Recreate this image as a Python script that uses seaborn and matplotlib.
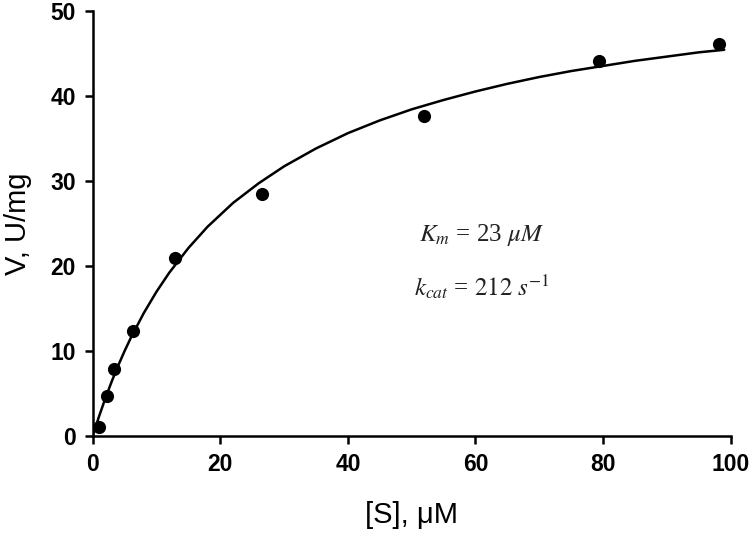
import matplotlib
matplotlib.use('Agg')
import matplotlib.pyplot as plt
import seaborn as sns
import pandas as pd

# measured points
substrate = [1.0, 2.2, 3.4, 6.3, 12.9, 26.6, 51.9, 79.4, 98.1]
velocity = [1.0, 4.7, 7.9, 12.3, 20.9, 28.4, 37.6, 44.1, 46.1]

# fitted curve
curve_s = [0, 1, 2, 3, 4, 5, 6, 8, 10, 12, 15, 18, 22, 26, 30, 35, 40, 45,
           50, 55, 60, 65, 70, 75, 80, 85, 90, 95, 99]
curve_v = [0, 2.33, 4.48, 6.46, 8.30, 10.0, 11.59, 14.45, 16.97, 19.2, 22.1,
           24.6, 27.4, 29.7, 31.7, 33.8, 35.6, 37.1, 38.4, 39.5, 40.5, 41.4,
           42.2, 42.9, 43.5, 44.1, 44.6, 45.1, 45.4]

x_ticks = [0, 20, 40, 60, 80, 100]
y_ticks = [0, 10, 20, 30, 40, 50]

sns.set_style('ticks')
plt.rcParams['font.family'] = ['Liberation Sans', 'DejaVu Sans']
plt.rcParams['mathtext.fontset'] = 'stix'
plt.rcParams['text.color'] = 'black'
plt.rcParams['axes.labelcolor'] = 'black'
plt.rcParams['axes.edgecolor'] = 'black'
plt.rcParams['xtick.color'] = 'black'
plt.rcParams['ytick.color'] = 'black'

points = pd.DataFrame({'S': substrate, 'V': velocity})
curve = pd.DataFrame({'S': curve_s, 'V': curve_v})

fig = plt.figure(figsize=(7.54, 5.33), dpi=100)
ax = fig.add_axes([0.123, 0.182, 0.846, 0.798])

sns.lineplot(data=curve, x='S', y='V', ax=ax, color='black', linewidth=1.8)
sns.scatterplot(data=points, x='S', y='V', ax=ax, color='black', s=90,
                edgecolor='black', linewidth=0, zorder=3, clip_on=False)

ax.set_xlim(0, 100)
ax.set_ylim(0, 50)
ax.set_xticks(x_ticks)
ax.set_yticks(y_ticks)
ax.tick_params(axis='both', labelsize=16.5, width=1.8, length=6, pad=6)
for lab in ax.get_xticklabels() + ax.get_yticklabels():
    lab.set_fontweight('bold')
for side in ['left', 'bottom']:
    ax.spines[side].set_linewidth(1.8)
sns.despine(ax=ax)

ax.set_xlabel('[S], μM', fontsize=21, labelpad=18)
ax.set_ylabel('V, U/mg', fontsize=21, labelpad=13)

ax.text(61, 23.6, r'$K_m$ = 23 $\mu M$', fontsize=18, ha='center',
        va='center', family='Liberation Serif', color='#222222')
ax.text(61, 17.5, r'$k_{cat}$ = $212\ s^{-1}$', fontsize=18, ha='center',
        va='center', family='Liberation Serif', color='#222222')

fig.savefig('out.png', dpi=100)
